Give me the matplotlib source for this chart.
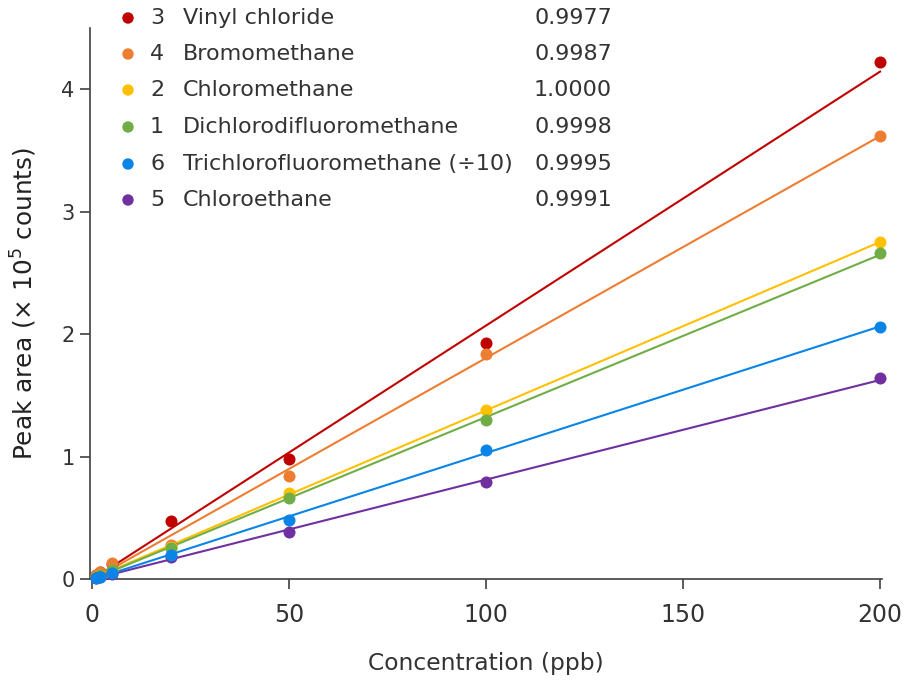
import numpy as np
import matplotlib
matplotlib.use("Agg")
import matplotlib.pyplot as plt

conc = [1, 2, 5, 20, 50, 100, 200]
numbers = ["3", "4", "2", "1", "6", "5"]
names = ["Vinyl chloride", "Bromomethane", "Chloromethane", "Dichlorodifluoromethane",
         "Trichlorofluoromethane (÷10)", "Chloroethane"]
r2 = ["0.9977", "0.9987", "1.0000", "0.9998", "0.9995", "0.9991"]
colors = ["#c00000", "#ed7d31", "#ffc000", "#70ad47", "#0a84e6", "#7030a0"]
vinyl = [0.03, 0.06, 0.12, 0.47, 0.98, 1.93, 4.22]
bromo = [0.03, 0.06, 0.13, 0.28, 0.84, 1.84, 3.62]
chloromethane = [0.02, 0.03, 0.07, 0.26, 0.70, 1.38, 2.75]
dichloro = [0.02, 0.03, 0.07, 0.25, 0.66, 1.30, 2.66]
trichloro = [0.01, 0.02, 0.05, 0.20, 0.48, 1.05, 2.06]
chloroethane = [0.01, 0.02, 0.04, 0.18, 0.38, 0.79, 1.64]
series = [vinyl, bromo, chloromethane, dichloro, trichloro, chloroethane]
draw_order = [0, 1, 2, 3, 5, 4]

fig = plt.figure(figsize=(9.06, 6.81), dpi=100)
ax = fig.add_axes([90/906, 1-579/681, 792/906, 551/681])

xfit = np.array([0, 200])
for i in draw_order:
    y = np.array(series[i])
    slope, icpt = np.polyfit(conc, y, 1)
    ax.plot(xfit, slope*xfit + icpt, color=colors[i], lw=1.5, zorder=2)
for i in draw_order:
    ax.scatter(conc, series[i], s=75, color=colors[i], zorder=3, linewidths=0, clip_on=False)

ax.set_xlim(-0.5, 200.5)
ax.set_ylim(0, 4.5)
ax.set_xticks([0, 50, 100, 150, 200])
ax.set_yticks([0, 1, 2, 3, 4])
for s in ["top", "right"]:
    ax.spines[s].set_visible(False)
for s in ["left", "bottom"]:
    ax.spines[s].set_color("#404040")
    ax.spines[s].set_linewidth(1.2)
ax.tick_params(axis="both", colors="#404040", length=7, width=1.2)
ax.tick_params(axis="x", labelsize=17, labelcolor="#333333", pad=10)
ax.tick_params(axis="y", labelsize=15, labelcolor="#333333", pad=4)
ax.set_xlabel("Concentration (ppb)", fontsize=16.8,
              color="#333333", labelpad=18)
ax.set_ylabel("Peak area (× 10$^5$ counts)", fontsize=17.8, color="#222222", labelpad=16)

row_y = [18, 54, 90, 127, 164, 200]
for i in range(6):
    yf = 1 - row_y[i]/681
    fig.patches.append(matplotlib.patches.Ellipse((128/906, yf), 10/906, 10/681,
                                                  transform=fig.transFigure,
                                                  color=colors[i]))
    fig.text(150/906, yf, numbers[i], fontsize=16, color="#333333", va="center", ha="left")
    fig.text(183/906, yf, names[i], fontsize=16, color="#333333", va="center", ha="left")
    fig.text(612/906, yf, r2[i], fontsize=16, color="#333333", va="center", ha="right")

fig.savefig("out.png", dpi=100)
